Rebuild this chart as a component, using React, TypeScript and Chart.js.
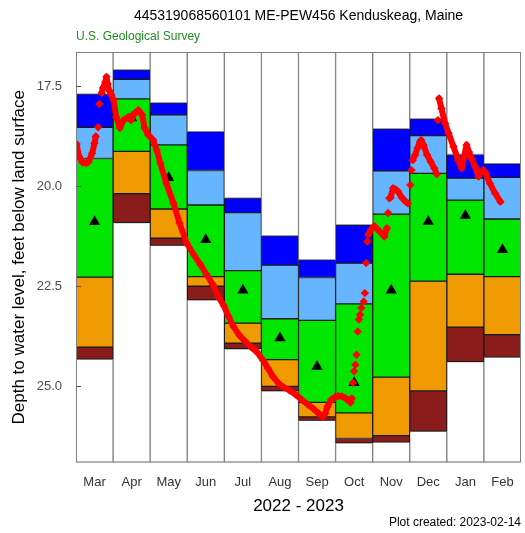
import React, { useEffect, useRef } from 'react';
import { Chart, registerables } from 'chart.js';

Chart.register(...registerables);

// ---- Data -------------------------------------------------------------
const months = ['Mar', 'Apr', 'May', 'Jun', 'Jul', 'Aug', 'Sep', 'Oct', 'Nov', 'Dec', 'Jan', 'Feb'];
const monthLengths = [31, 30, 31, 30, 31, 31, 30, 31, 30, 31, 31, 28];

// Percentile class boundaries (depth to water, ft) per calendar month
const recordMax = [17.70, 17.10, 17.92, 18.64, 20.30, 21.24, 21.84, 20.97, 18.57, 18.32, 19.21, 19.44];
const pct90 = [18.53, 17.33, 18.22, 19.61, 20.66, 21.97, 22.28, 21.92, 19.62, 18.74, 19.80, 19.78];
const pct75 = [19.31, 17.82, 18.97, 20.47, 22.11, 23.31, 23.35, 22.94, 20.70, 19.68, 20.35, 20.82];
const pct25 = [22.27, 19.13, 20.57, 22.26, 23.42, 24.33, 25.40, 25.66, 24.77, 22.37, 22.20, 22.26];
const pct10 = [24.02, 20.19, 21.30, 22.50, 23.92, 25.00, 25.76, 26.30, 26.23, 25.11, 23.52, 23.71];
const recordMin = [24.32, 20.91, 21.48, 22.84, 24.06, 25.11, 25.85, 26.41, 26.39, 26.12, 24.38, 24.27];
const monthMedian = [20.89, 18.30, 19.79, 21.34, 22.60, 23.79, 24.50, 24.91, 22.60, 20.88, 20.73, 21.59];

const yTickValues = [17.5, 20.0, 22.5, 25.0];
const yAxisTop = 16.65;
const yAxisBottom = 26.9;

// Daily values, continuous runs (null = break)
const traceDates: (string | null)[] = [
  '2022-03-01', '2022-03-03', '2022-03-06', '2022-03-09', '2022-03-11', '2022-03-14', '2022-03-16', '2022-03-17',
  null,
  '2022-03-22', '2022-03-23', '2022-03-25', '2022-03-26', '2022-03-27', '2022-03-28', '2022-03-30',
  '2022-04-01', '2022-04-03', '2022-04-06', '2022-04-09', '2022-04-13', '2022-04-15', '2022-04-18', '2022-04-21',
  '2022-04-24', '2022-04-26', '2022-04-29',
  '2022-05-03', '2022-05-06', '2022-05-09', '2022-05-14', '2022-05-20', '2022-05-25', '2022-05-31',
  '2022-06-06', '2022-06-11', '2022-06-16', '2022-06-21', '2022-06-26', '2022-06-30',
  '2022-07-04', '2022-07-08', '2022-07-13', '2022-07-18', '2022-07-23', '2022-07-28',
  '2022-08-02', '2022-08-06', '2022-08-10', '2022-08-15', '2022-08-19', '2022-08-24', '2022-08-29',
  '2022-09-03', '2022-09-08', '2022-09-13', '2022-09-17', '2022-09-20', '2022-09-22', '2022-09-24', '2022-09-27', '2022-09-30',
  '2022-10-03', '2022-10-06', '2022-10-09', '2022-10-11', '2022-10-13', '2022-10-14',
  null,
  '2022-10-28', '2022-10-30', '2022-11-02', '2022-11-06', '2022-11-10', '2022-11-12',
  null,
  '2022-11-15', '2022-11-17', '2022-11-19', '2022-11-21', '2022-11-24', '2022-11-27', '2022-11-29',
  null,
  '2022-12-03', '2022-12-05', '2022-12-07', '2022-12-09', '2022-12-10', '2022-12-12', '2022-12-15', '2022-12-18',
  '2022-12-21', '2022-12-23',
  null,
  '2022-12-25', '2022-12-27', '2022-12-30', '2023-01-02', '2023-01-06', '2023-01-10', '2023-01-13', '2023-01-15',
  '2023-01-17', '2023-01-19', '2023-01-21', '2023-01-24', '2023-01-27', '2023-01-29', '2023-01-31',
  '2023-02-02', '2023-02-05', '2023-02-09', '2023-02-13',
];
const traceDepth: (number | null)[] = [
  18.95, 19.26, 19.41, 19.42, 19.39, 19.18, 18.93, 18.76,
  null,
  17.67, 17.55, 17.40, 17.27, 17.45, 17.60, 17.72,
  17.85, 18.27, 18.55, 18.35, 18.27, 18.35, 18.18, 18.10,
  18.22, 18.55, 18.72,
  18.85, 19.10, 19.43, 19.93, 20.43, 20.92, 21.42,
  21.72, 21.95, 22.20, 22.45, 22.78, 22.98,
  23.25, 23.50, 23.72, 23.88, 24.02, 24.15,
  24.35, 24.55, 24.75, 24.93, 25.02, 25.10, 25.20,
  25.33, 25.45, 25.57, 25.68, 25.76, 25.68, 25.50, 25.33, 25.27,
  25.24, 25.25, 25.30, 25.35, 25.40, 25.30,
  null,
  21.20, 21.09, 21.00, 21.13, 21.26, 21.05,
  null,
  20.28, 20.05, 20.08, 20.13, 20.28, 20.38, 20.43,
  null,
  19.35, 19.22, 19.05, 18.90, 18.85, 18.97, 19.22, 19.39,
  19.55, 19.70,
  null,
  17.81, 18.06, 18.43, 18.68, 19.01, 19.35, 19.55, 19.25,
  18.97, 19.15, 19.30, 19.51, 19.76, 19.65, 19.60,
  19.68, 19.93, 20.18, 20.39,
];

// Daily values that stand apart (fast changes)
const spotDates = [
  '2022-03-19', '2022-03-20',
  '2022-10-15', '2022-10-16', '2022-10-17', '2022-10-18', '2022-10-19', '2022-10-20', '2022-10-21', '2022-10-22',
  '2022-10-24', '2022-10-25', '2022-10-26', '2022-10-27',
  '2022-11-13', '2022-11-14',
  '2022-12-01', '2022-12-02',
  '2022-12-24',
];
const spotDepth = [
  18.53, 17.95,
  24.91, 24.62, 24.46, 24.21, 23.63, 23.33, 23.21, 23.04,
  22.88, 22.67, 21.92, 21.38,
  20.67, 20.30,
  19.97, 19.60,
  18.35,
];

// ---- Helpers ------------------------------------------------------------
function datePos(d: string): number {
  const parts = d.split('-').map(Number);
  const idx = (parts[1] - 3 + 12) % 12;
  return idx + (parts[2] - 0.5) / monthLengths[idx];
}

const FONT = "'Liberation Sans', Arial, Helvetica, sans-serif";

const framePlugin = {
  id: 'frameAndTicks',
  afterDatasetsDraw(chart: any) {
    const { ctx, chartArea } = chart;
    const y = chart.scales.y;
    ctx.save();
    ctx.strokeStyle = '#808080';
    ctx.lineWidth = 1;
    ctx.strokeRect(chartArea.left + 0.5, chartArea.top + 0.5, chartArea.right - chartArea.left - 1, chartArea.bottom - chartArea.top - 1);
    ctx.strokeStyle = '#555555';
    yTickValues.forEach((v) => {
      const py = Math.round(y.getPixelForValue(v)) + 0.5;
      ctx.beginPath();
      ctx.moveTo(chartArea.left, py);
      ctx.lineTo(chartArea.left + 5, py);
      ctx.stroke();
    });
    ctx.restore();
  },
  afterDraw(chart: any) {
    const { ctx, chartArea } = chart;
    ctx.save();
    ctx.font = `12px ${FONT}`;
    ctx.fillStyle = '#000';
    ctx.textAlign = 'right';
    ctx.textBaseline = 'middle';
    ctx.fillText('Plot created: 2023-02-14', chartArea.right, 523);
    ctx.restore();
  },
};

export default function App() {
  const canvasRef = useRef<HTMLCanvasElement | null>(null);

  useEffect(() => {
    if (!canvasRef.current) return;

    const bands = [
      { lo: months.map(() => yAxisTop), hi: recordMax, bg: '#FFFFFF', bc: '#808080' },
      { lo: recordMax, hi: pct90, bg: '#0000FF', bc: '#1a1a1a' },
      { lo: pct90, hi: pct75, bg: '#66B5FF', bc: '#1a1a1a' },
      { lo: pct75, hi: pct25, bg: '#00E600', bc: '#1a1a1a' },
      { lo: pct25, hi: pct10, bg: '#EE9A00', bc: '#1a1a1a' },
      { lo: pct10, hi: recordMin, bg: '#8B1C1C', bc: '#1a1a1a' },
      { lo: recordMin, hi: months.map(() => yAxisBottom), bg: '#FFFFFF', bc: '#808080' },
    ];

    const barSets = bands.map((b) => ({
      type: 'bar' as const,
      xAxisID: 'x',
      yAxisID: 'y',
      data: months.map((_, i) => [b.lo[i], b.hi[i]]),
      backgroundColor: b.bg,
      borderColor: b.bc,
      borderWidth: 1,
      borderSkipped: false,
      grouped: false,
      barPercentage: 1,
      categoryPercentage: 1,
      order: 10,
    }));

    const traceData = traceDates.map((d, i) =>
      d === null ? { x: i > 0 && traceDates[i - 1] ? datePos(traceDates[i - 1] as string) : 0, y: null } : { x: datePos(d), y: traceDepth[i] }
    );
    const spotData = spotDates.map((d, i) => ({ x: datePos(d), y: spotDepth[i] }));
    const medianData = monthMedian.map((v, i) => ({ x: i + 0.5, y: v }));

    const chart = new Chart(canvasRef.current, {
      type: 'bar',
      data: {
        labels: months,
        datasets: [
          ...barSets,
          {
            type: 'line',
            xAxisID: 'xd',
            yAxisID: 'y',
            data: medianData,
            showLine: false,
            pointStyle: 'triangle',
            pointRadius: 6.5,
            pointBackgroundColor: '#000',
            pointBorderColor: '#000',
            pointBorderWidth: 0,
            order: 2,
          },
          {
            type: 'line',
            xAxisID: 'xd',
            yAxisID: 'y',
            data: traceData,
            borderColor: '#FF0000',
            borderWidth: 6,
            borderJoinStyle: 'round',
            borderCapStyle: 'round',
            tension: 0,
            spanGaps: false,
            pointStyle: 'rectRot',
            pointRadius: 4.2,
            pointBackgroundColor: '#FF0000',
            pointBorderWidth: 0,
            order: 0,
          },
          {
            type: 'line',
            xAxisID: 'xd',
            yAxisID: 'y',
            data: spotData,
            showLine: false,
            pointStyle: 'rectRot',
            pointRadius: 4.2,
            pointBackgroundColor: '#FF0000',
            pointBorderWidth: 0,
            order: 0,
          },
        ] as any,
      },
      options: {
        responsive: false,
        animation: false,
        devicePixelRatio: 1,
        events: [],
        layout: { autoPadding: false, padding: { left: 3, right: 4, top: 0, bottom: 16.5 } },
        plugins: {
          legend: { display: false },
          tooltip: { enabled: false },
          title: {
            display: true,
            text: '445319068560101 ME-PEW456 Kenduskeag, Maine',
            fullSize: false,
            align: 'center',
            color: '#000',
            font: { family: FONT, size: 14, weight: 'normal' },
            padding: { top: 8, bottom: 4 },
          },
          subtitle: {
            display: true,
            text: 'U.S. Geological Survey',
            fullSize: false,
            align: 'start',
            color: '#228B22',
            font: { family: FONT, size: 12, weight: 'normal' },
            padding: { top: 1, bottom: 7.8 },
          },
        },
        scales: {
          x: {
            type: 'category',
            offset: true,
            grid: { display: false, drawTicks: true, tickLength: 12, offset: true },
            border: { display: false },
            ticks: { color: '#333', font: { family: FONT, size: 13 }, padding: 0 },
            title: {
              display: true,
              text: '2022 - 2023',
              color: '#000',
              font: { family: FONT, size: 17 },
              padding: { top: 6, bottom: 0 },
            },
          },
          xd: {
            type: 'linear',
            display: false,
            min: 0,
            max: 12,
            offset: false,
          },
          y: {
            type: 'linear',
            reverse: true,
            min: yAxisTop,
            max: yAxisBottom,
            grid: { display: false, drawTicks: false },
            border: { display: false },
            afterBuildTicks: (scale: any) => {
              scale.ticks = yTickValues.map((v) => ({ value: v }));
            },
            ticks: {
              color: '#4d4d4d',
              font: { family: FONT, size: 13 },
              padding: 14,
              callback: (v: any) => Number(v).toFixed(1),
            },
            title: {
              display: true,
              text: 'Depth to water level, feet below land surface',
              color: '#000',
              font: { family: FONT, size: 17 },
              padding: { top: 6.3, bottom: -7 },
            },
          },
        },
      } as any,
      plugins: [framePlugin],
    });

    return () => chart.destroy();
  }, []);

  return (
    <div style={{ position: 'fixed', left: 0, top: 0, width: 525, height: 533, background: '#fff' }}>
      <canvas ref={canvasRef} width={525} height={533} style={{ display: 'block' }} />
    </div>
  );
}
